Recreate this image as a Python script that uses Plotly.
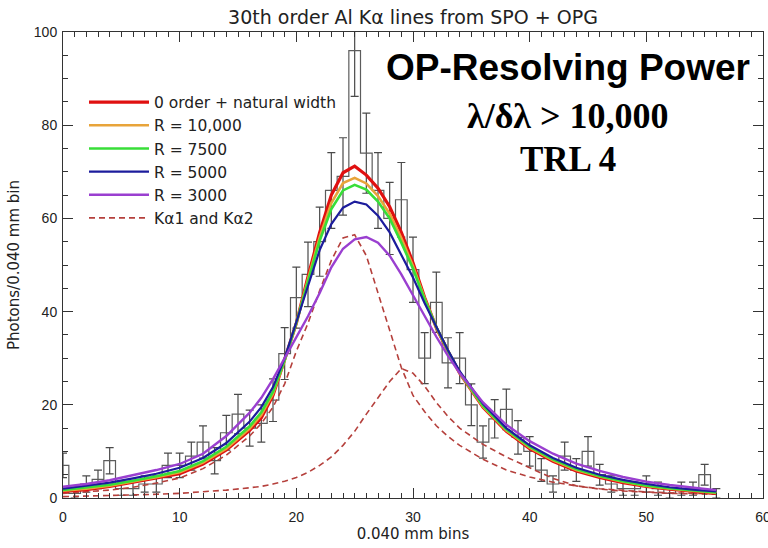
import numpy as np
import plotly.graph_objects as go

# ---- histogram data (counts per 0.040 mm bin) ----
bins = list(range(57))
counts = [7, 1, 3, 4, 8, 2, 2, 3, 3, 7,
          7, 9, 12, 8, 14, 18, 15, 16, 21, 31,
          43, 48, 55, 66, 69, 96, 74, 66, 60, 64,
          49, 30, 42, 29, 30, 20, 12, 17, 19, 13,
          10, 6, 3, 9, 6, 10, 5, 3, 2, 2,
          3, 2, 1, 2, 2, 5, 1]

# ---- model curves ----
cx = [0, 2, 4, 6, 8, 10, 12, 14, 16, 17, 18, 19, 20, 21, 22, 23, 24, 25, 26, 27,
      28, 29, 30, 31, 32, 33, 34, 36, 38, 40, 42, 44, 46, 48, 50, 52, 54, 56]
red_r0 = [1.4, 1.8, 2.5, 3.4, 4.3, 5.2, 7.3, 10.3, 14.5, 17.2, 22, 29.5, 37.5, 47.5, 57, 65, 69.8, 71.2, 69.3, 66.5,
          62.5, 57, 50.5, 43, 36.5, 31.5, 26.8, 19.5, 14.3, 10.6, 7.9, 5.8, 4.4, 3.3, 2.5, 1.9, 1.4, 1.0]
orange_r10000 = [1.55, 2.0, 2.65, 3.5, 4.45, 5.5, 7.6, 10.6, 14.9, 17.8, 22.4, 29.5, 37.6, 47, 56, 63.3, 67.6, 68.7, 67.5, 64.8,
                 61, 55.8, 49.8, 42.8, 36.6, 31.5, 26.8, 19.6, 14.5, 10.8, 8.1, 6.0, 4.6, 3.5, 2.6, 2.0, 1.5, 1.1]
green_r7500 = [1.7, 2.2, 2.85, 3.7, 4.65, 5.8, 7.9, 11.0, 15.4, 18.4, 22.8, 29.6, 37.6, 46.5, 55.2, 62, 66, 67.2, 66.2, 63.6,
               60, 54.8, 49.2, 42.6, 36.7, 31.6, 26.9, 19.8, 14.7, 11, 8.3, 6.2, 4.7, 3.6, 2.7, 2.1, 1.6, 1.2]
blue_r5000 = [2.0, 2.6, 3.3, 4.2, 5.2, 6.5, 8.6, 11.8, 16.4, 19.5, 23.8, 30, 37.5, 45.5, 53.2, 58.8, 62.3, 63.6, 63, 60.6,
              57, 52.3, 47.3, 41.8, 36.6, 31.7, 27.2, 20.2, 15, 11.3, 8.6, 6.5, 5.0, 3.9, 3.0, 2.3, 1.8, 1.4]
purple_r3000 = [2.4, 3.0, 3.8, 4.9, 6.0, 7.3, 9.5, 13.3, 18.3, 21.5, 25.5, 30, 34.5, 39, 44, 49.5, 53.5, 55.5, 56, 54.8,
                52, 48, 43.5, 39, 34.6, 30.5, 26.8, 20.5, 15.7, 12.2, 9.5, 7.4, 5.8, 4.5, 3.5, 2.8, 2.2, 1.7]
ka1 = [1.0, 1.3, 1.7, 2.3, 3.2, 4.3, 6.3, 9.2, 13.3, 16, 19.5, 24.5, 31.5, 37.5, 44.5, 51, 55.8, 56.5, 52, 44,
       36, 28, 22, 18.5, 15.5, 13.2, 11.3, 8.3, 6.0, 4.5, 3.4, 2.6, 2.0, 1.6, 1.3, 1.1, 1.0, 0.9]
ka2 = [0.3, 0.4, 0.5, 0.6, 0.8, 1.0, 1.3, 1.7, 2.2, 2.5, 3.0, 3.6, 4.4, 5.5, 7, 8.8, 11.3, 14.3, 18, 21.5,
       25, 27.8, 26.8, 24, 20.5, 17.5, 15, 11.5, 8.8, 6.5, 4.2, 2.6, 1.9, 1.5, 1.2, 1.0, 0.9, 0.8]

series_names = ["0 order + natural width", "R = 10,000", "R = 7500", "R = 5000", "R = 3000"]
series_vals = [red_r0, orange_r10000, green_r7500, blue_r5000, purple_r3000]
series_colors = ["#e01010", "#e8a43a", "#38de38", "#1c1c9c", "#9a3fd0"]
series_widths = [3.2, 2.6, 2.6, 2.2, 2.4]

x_ticks = [0, 10, 20, 30, 40, 50, 60]
y_ticks = [0, 20, 40, 60, 80, 100]

TXT = "DejaVu Sans"
NUM = "Liberation Sans"

fig = go.Figure()

# histogram with Poisson error bars
fig.add_trace(go.Scatter(
    x=bins, y=counts, mode="lines", line=dict(shape="hvh", color="#5c5c5c", width=1.2),
    error_y=dict(type="data", array=np.sqrt(np.array(counts, dtype=float)), color="#4a4a4a",
                 thickness=1.2, width=4),
    showlegend=False, hoverinfo="skip"))

# dashed line components
fig.add_trace(go.Scatter(x=cx, y=ka1, mode="lines", name="K\u03b11 and K\u03b12",
                         line=dict(color="#b5403c", width=1.6, dash="6px,4px"),
                         legendgroup="ka", legendrank=6))
fig.add_trace(go.Scatter(x=cx, y=ka2, mode="lines", name="K\u03b11 and K\u03b12",
                         line=dict(color="#b5403c", width=1.6, dash="6px,4px"),
                         legendgroup="ka", showlegend=False))

for i, (nm, vals, col, w) in enumerate(zip(series_names, series_vals, series_colors, series_widths)):
    fig.add_trace(go.Scatter(x=cx, y=vals, mode="lines", name=nm,
                             line=dict(color=col, width=w), legendrank=i + 1))

fig.update_layout(
    width=768, height=548,
    margin=dict(l=63, r=5, t=32, b=50, autoexpand=False),
    plot_bgcolor="white", paper_bgcolor="white",
    title=dict(text="30th order Al K\u03b1 lines from SPO + OPG", x=0.5, xref="paper", xanchor="center",
               y=1 - 17 / 548, yref="container", yanchor="middle",
               font=dict(family=TXT, size=19, color="#222")),
    legend=dict(x=0.03, y=0.885, xanchor="left", yanchor="top", bgcolor="rgba(0,0,0,0)",
                font=dict(family=TXT, size=15.5, color="#222"), itemwidth=60, tracegroupgap=0,
                traceorder="normal"),
    showlegend=True,
)

fig.update_xaxes(range=[0, 60], tickvals=x_ticks, ticks="inside", ticklen=10, tickcolor="#333",
                 showline=True, linecolor="#333", linewidth=1, mirror="allticks",
                 showgrid=False, zeroline=False, automargin=False, ticklabelstandoff=6,
                 ticklabeloverflow="allow",
                 minor=dict(dtick=1, tick0=0, ticks="inside", ticklen=5, tickcolor="#333", showgrid=False),
                 tickfont=dict(family=NUM, size=14, color="#222"),
                 title=dict(text="0.040 mm bins", font=dict(family=TXT, size=15, color="#222"), standoff=2))
fig.update_yaxes(range=[0, 100], tickvals=y_ticks, ticks="inside", ticklen=10, tickcolor="#333",
                 showline=True, linecolor="#333", linewidth=1, mirror="allticks",
                 showgrid=False, zeroline=False, automargin=False, ticklabelstandoff=2,
                 ticklabeloverflow="allow",
                 minor=dict(dtick=5, tick0=0, ticks="inside", ticklen=5, tickcolor="#333", showgrid=False),
                 tickfont=dict(family=NUM, size=14, color="#222"),
                 title=dict(text="Photons/0.040 mm bin", font=dict(family=TXT, size=15, color="#222"), standoff=10))

fig.add_annotation(text="<b>OP-Resolving Power</b>", x=43.3, y=92.3, xref="x", yref="y",
                   showarrow=False, xanchor="center", yanchor="middle",
                   font=dict(family="Liberation Sans", size=37, color="black"))
fig.add_annotation(text="<b>\u03bb/\u03b4\u03bb > 10,000</b>", x=43.3, y=82.0, xref="x", yref="y",
                   showarrow=False, xanchor="center", yanchor="middle",
                   font=dict(family="Liberation Serif", size=36, color="black"))
fig.add_annotation(text="<b>TRL 4</b>", x=43.3, y=72.6, xref="x", yref="y",
                   showarrow=False, xanchor="center", yanchor="middle",
                   font=dict(family="Liberation Serif", size=35, color="black"))

fig.write_html("out.html", config={"displayModeBar": False},
               post_script="document.body.style.margin='0px';document.body.style.overflow='hidden';")
